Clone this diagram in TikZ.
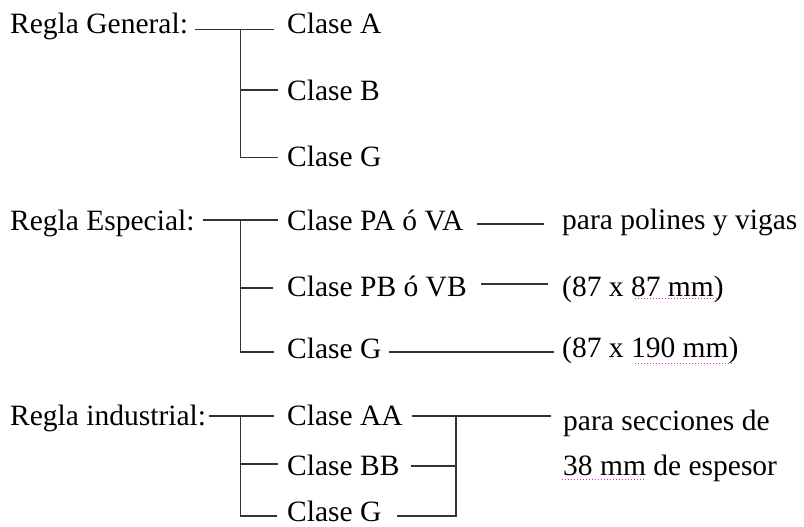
\documentclass[tikz,border=0pt]{standalone}
\usepackage{fontspec}
\setmainfont{Liberation Serif}
\definecolor{spellc}{RGB}{220,40,220}
\begin{document}
\begin{tikzpicture}[x=1pt,y=-1pt,
  txt/.style={anchor=base west,inner sep=0pt,font=\fontsize{29.5}{34}\selectfont,text=black},
  brace/.style={line width=1.8pt,draw=black!80},
  spell/.style={line width=1.1pt,draw=spellc,dash pattern=on 1pt off 2pt}]
\useasboundingbox (0,0) rectangle (804,527);
\clip (0,0) rectangle (804,527);

% ---- Regla General
\node[txt] (gen) at (10,34) {Regla General:};
\node[txt] (ca) at (287,34) {Clase A};
\node[txt] (cb) at (287,100) {Clase B};
\node[txt] (cg1) at (287,166) {Clase G};
\coordinate (g0) at (195,29.5);
\coordinate (gj) at (240.5,29.5);
\coordinate (ga) at (274,29.5);
\coordinate (gbj) at (240.5,90);
\coordinate (gb) at (278,90);
\coordinate (ggj) at (240.5,157.5);
\coordinate (gg) at (278,157.5);
\draw[brace] (g0) -- (ga);
\draw[brace] (gj) -- (ggj) -- (gg);
\draw[brace] (gbj) -- (gb);

% ---- Regla Especial
\node[txt] (esp) at (10,230) {Regla Especial:};
\node[txt] (pa) at (287,230) {Clase PA ó VA};
\node[txt] (pb) at (287,296) {Clase PB ó VB};
\node[txt] (cg2) at (287,358) {Clase G};
\node[txt] (pv) at (562,229) {para polines y vigas};
\node[txt] (d1) at (562,296) {(87 x 87 mm)};
\node[txt] (d2) at (562,357) {(87 x 190 mm)};
\coordinate (e0) at (203,220);
\coordinate (ej) at (240.5,220);
\coordinate (ea) at (278,220);
\coordinate (ebj) at (240.5,288.3);
\coordinate (eb) at (272.5,288.3);
\coordinate (egj) at (240.5,352.3);
\coordinate (eg) at (274,352.3);
\draw[brace] (e0) -- (ea);
\draw[brace] (ej) -- (egj) -- (eg);
\draw[brace] (ebj) -- (eb);
\coordinate (va0) at (477,224);
\coordinate (va1) at (544,224);
\coordinate (vb0) at (481,284);
\coordinate (vb1) at (548,284);
\coordinate (vg0) at (389,351.7);
\coordinate (vg1) at (554,351.7);
\draw[brace] (va0) -- (va1);
\draw[brace] (vb0) -- (vb1);
\draw[brace] (vg0) -- (vg1);
\draw[spell] (635,298.5) -- (717,298.5);
\draw[spell] (635,363.5) -- (734,363.5);

% ---- Regla industrial
\node[txt] (ind) at (10,425) {Regla industrial:};
\node[txt] (aa) at (287,425) {Clase AA};
\node[txt] (bb) at (287,475) {Clase BB};
\node[txt] (cg3) at (287,521) {Clase G};
\node[txt] (ps) at (563,430) {para secciones de};
\node[txt] (mm) at (563,475) {38 mm de espesor};
\coordinate (i0) at (209,415.7);
\coordinate (ij) at (240.5,415.7);
\coordinate (ia) at (274,415.7);
\coordinate (ibj) at (240.5,464);
\coordinate (ib) at (278,464);
\coordinate (igj) at (240.5,516);
\coordinate (ig) at (277,516);
\draw[brace] (i0) -- (ia);
\draw[brace] (ij) -- (igj) -- (ig);
\draw[brace] (ibj) -- (ib);
\coordinate (ra0) at (412,416);
\coordinate (rj) at (456,416);
\coordinate (ra1) at (551,416);
\coordinate (rb0) at (411,466);
\coordinate (rbj) at (456,466);
\coordinate (rg0) at (397,516);
\coordinate (rgj) at (456,516);
\draw[brace] (ra0) -- (ra1);
\draw[brace] (rj) -- (rgj) -- (rg0);
\draw[brace] (rb0) -- (rbj);
\draw[spell] (562,479.5) -- (646,479.5);
\end{tikzpicture}
\end{document}
